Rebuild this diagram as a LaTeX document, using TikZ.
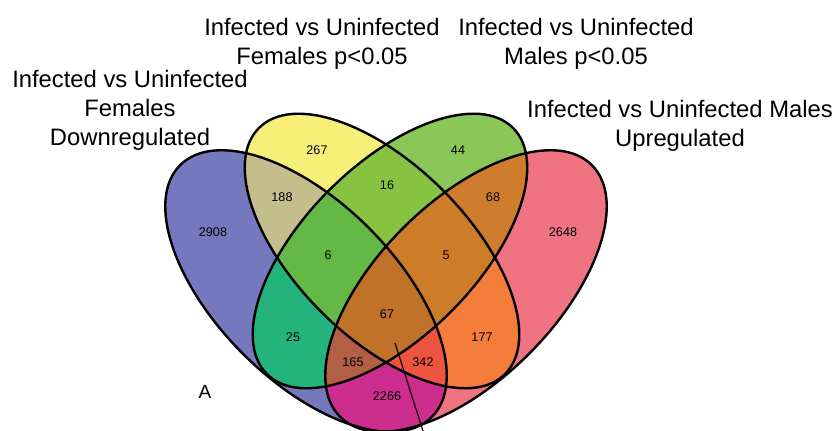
\documentclass[tikz,border=0pt]{standalone}
\usepackage{fontspec}
\setmainfont{Liberation Sans}
\usepackage{tikz}
\definecolor{setA}{HTML}{7678BE}
\definecolor{setB}{HTML}{F6F078}
\definecolor{setC}{HTML}{8AC658}
\definecolor{setD}{HTML}{F07382}
\definecolor{setAB}{HTML}{C3BE8C}
\definecolor{setAC}{HTML}{23B47D}
\definecolor{setAD}{HTML}{CD2D8C}
\definecolor{setBC}{HTML}{87C341}
\definecolor{setBD}{HTML}{F57D3C}
\definecolor{setCD}{HTML}{CD7D2D}
\definecolor{setABC}{HTML}{64B946}
\definecolor{setABD}{HTML}{EE5541}
\definecolor{setACD}{HTML}{B25F46}
\definecolor{setBCD}{HTML}{CD7D28}
\definecolor{setABCD}{HTML}{C07328}
\def\ellA{(306,291) ellipse [x radius=89pt,y radius=44.5pt,rotate=-45]}
\def\ellB{(382,251) ellipse [x radius=87pt,y radius=43pt,rotate=-45]}
\def\ellC{(390,251) ellipse [x radius=87pt,y radius=43pt,rotate=45]}
\def\ellD{(466,291) ellipse [x radius=89pt,y radius=44.5pt,rotate=45]}

\begin{document}
\begin{tikzpicture}[x=0.5pt,y=-0.5pt,outline/.style={draw=black,line width=1.2pt},count/.style={inner sep=0pt,font=\fontsize{6.3}{7.5}\selectfont},title/.style={align=center,anchor=north,inner sep=0pt,font=\fontsize{11.9}{14.4}\selectfont}]
\useasboundingbox (0,0) rectangle (835,431);
% one set
\fill[setA] \ellA; \fill[setB] \ellB; \fill[setC] \ellC; \fill[setD] \ellD;
% two sets
\begin{scope}\clip \ellA; \fill[setAB] \ellB; \fill[setAC] \ellC; \fill[setAD] \ellD;\end{scope}
\begin{scope}\clip \ellB; \fill[setBC] \ellC; \fill[setBD] \ellD;\end{scope}
\begin{scope}\clip \ellC; \fill[setCD] \ellD;\end{scope}
% three and four sets
\begin{scope}\clip \ellA; \clip \ellB; \fill[setABC] \ellC; \fill[setABD] \ellD;\end{scope}
\begin{scope}\clip \ellA; \clip \ellC; \fill[setACD] \ellD;\end{scope}
\begin{scope}\clip \ellB; \clip \ellC; \fill[setBCD] \ellD;\end{scope}
\begin{scope}\clip \ellA; \clip \ellB; \clip \ellC; \fill[setABCD] \ellD;\end{scope}
\draw[outline] \ellA; \draw[outline] \ellB; \draw[outline] \ellC; \draw[outline] \ellD;
% counts
\node[count] (nA) at (213,232) {2908};
\node[count] (nB) at (317,150) {267};
\node[count] (nC) at (458,150) {44};
\node[count] (nD) at (563,232) {2648};
\node[count] (nAB) at (282,197) {188};
\node[count] (nBC) at (387,185) {16};
\node[count] (nCD) at (493,197) {68};
\node[count] (nABC) at (328,255) {6};
\node[count] (nBCD) at (446,255) {5};
\node[count] (nABCD) at (387,314) {67};
\node[count] (nAC) at (293,337) {25};
\node[count] (nBD) at (482,337) {177};
\node[count] (nACD) at (353,362) {165};
\node[count] (nABD) at (423,362) {342};
\node[count] (nAD) at (387,396) {2266};
\node[inner sep=0pt,font=\fontsize{9.5}{11}\selectfont] (panel) at (205,392) {A};
% set names
\node[title] (labA) at (130,70) {Infected vs Uninfected\\Females\\Downregulated};
\node[title] (labB) at (322,18) {Infected vs Uninfected\\Females p<0.05};
\node[title] (labC) at (576,18) {Infected vs Uninfected\\Males p<0.05};
\node[title] (labD) at (680,100) {Infected vs Uninfected Males\\Upregulated};
\coordinate (tick) at (395,343);
\coordinate (tickend) at (423,431);
\draw[line width=0.6pt] (tick)--(tickend);
\end{tikzpicture}
\end{document}
